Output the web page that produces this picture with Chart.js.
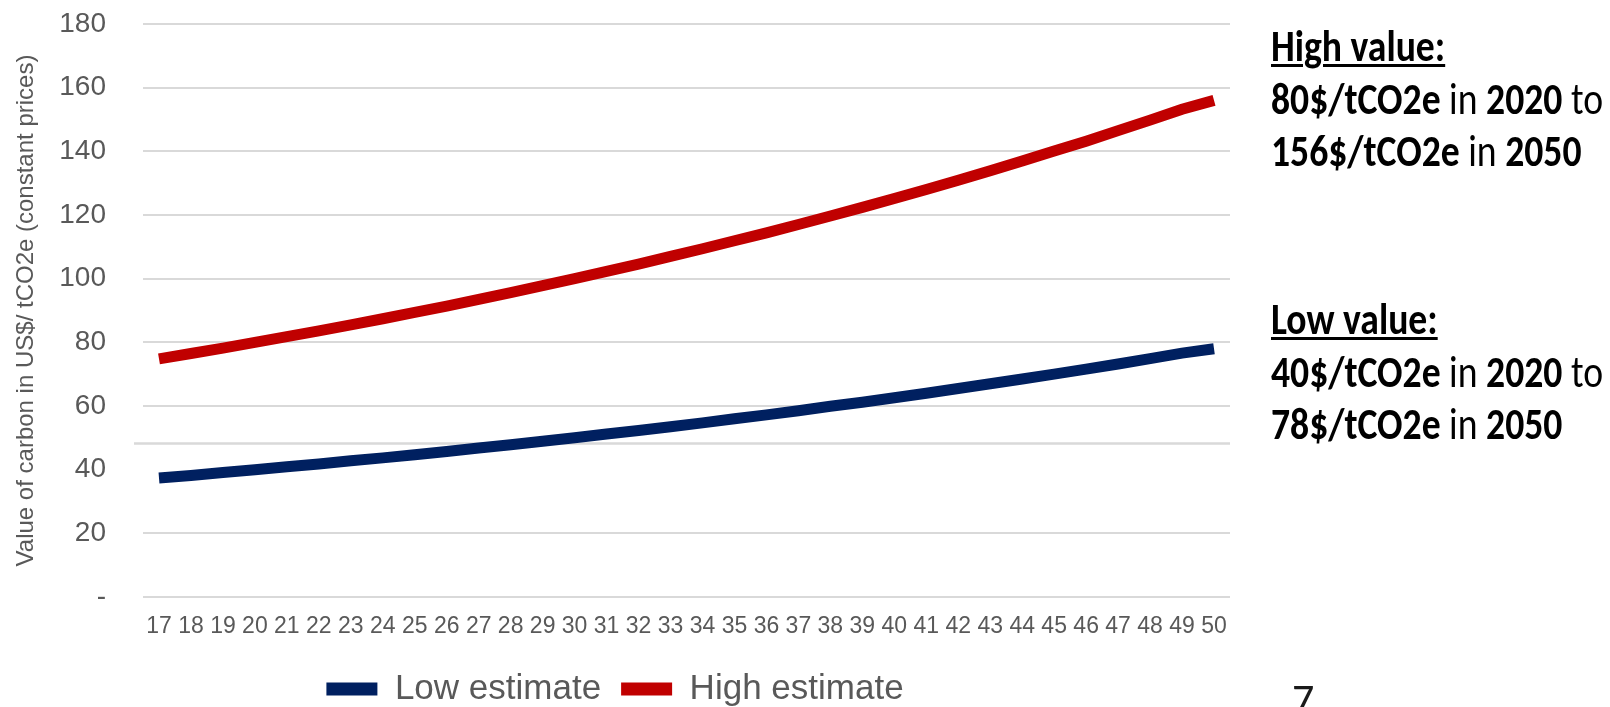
<!DOCTYPE html>
<html>
<head>
<meta charset="utf-8">
<title>Value of carbon</title>
<script src="https://cdn.jsdelivr.net/npm/chart.js@4.4.0/dist/chart.umd.min.js"></script>
<style>
  html, body { margin: 0; padding: 0; background: #fff; }
  body { width: 1610px; height: 707px; position: relative; overflow: hidden; }
  #chart { position: absolute; left: 0; top: 0; }
  .note {
    position: absolute;
    left: 1271px;
    font-family: Carlito, Calibri, 'Liberation Sans Narrow', 'Open Sans', sans-serif;
    font-size: 45px;
    line-height: 52.5px;
    color: #000;
    white-space: nowrap;
    transform-origin: left top;
  }
  .note .head { font-weight: bold; text-decoration: underline; text-decoration-thickness: 3px; text-underline-offset: 3px; }
  #high-note { top: 20px; }
  #low-note { top: 293px; }
  #page {
    position: absolute;
    left: 1292px;
    top: 677px;
    font-family: Carlito, Calibri, 'Liberation Sans Narrow', 'Open Sans', sans-serif;
    font-size: 44px;
    line-height: 44px;
    color: #1a1a1a;
  }
</style>
</head>
<body>
<canvas id="chart" width="1610" height="707"></canvas>

<div class="note" id="high-note">
  <div class="head">High value:</div>
  <div><b>80$/tCO2e</b> in <b>2020</b> to</div>
  <div><b>156$/tCO2e</b> in <b>2050</b></div>
</div>
<div class="note" id="low-note">
  <div class="head">Low value:</div>
  <div><b>40$/tCO2e</b> in <b>2020</b> to</div>
  <div><b>78$/tCO2e</b> in <b>2050</b></div>
</div>
<div id="page">7</div>

<script>
// years 2017 - 2050, shown as two digits
const years = ['17', '18', '19', '20', '21', '22', '23', '24', '25', '26', '27', '28', '29', '30', '31', '32', '33',
  '34', '35', '36', '37', '38', '39', '40', '41', '42', '43', '44', '45', '46', '47', '48', '49', '50'];

// US$ per tCO2e
const lowEstimate = [37.4, 38.2, 39.1, 40.0, 40.9, 41.8, 42.8, 43.7, 44.7, 45.7, 46.8, 47.8, 48.9, 50.0, 51.2, 52.3, 53.5,
  54.7, 56.0, 57.2, 58.5, 59.9, 61.2, 62.6, 64.0, 65.5, 67.0, 68.5, 70.0, 71.6, 73.2, 74.9, 76.6, 78.0];
const highEstimate = [74.8, 76.5, 78.2, 80.0, 81.8, 83.6, 85.5, 87.4, 89.4, 91.4, 93.5, 95.6, 97.8, 100.0, 102.3, 104.6, 107.0,
  109.4, 111.9, 114.4, 117.0, 119.7, 122.4, 125.2, 128.0, 130.9, 133.9, 137.0, 140.1, 143.2, 146.5, 149.8, 153.2, 156.0];

const yTickLabels = ['-', '20', '40', '60', '80', '100', '120', '140', '160', '180'];
const yAxisTitle = 'Value of carbon in US$/ tCO2e (constant prices)';

// the slide has one misplaced gridline just under 50 instead of the one at 40
const strayLineValue = 48.2;
const hiddenGridValue = 40;

const gridColor = '#d9d9d9';
const textGrey = '#595959';

Chart.defaults.font.family = "'Liberation Sans', Arial, sans-serif";

const strayGridLine = {
  id: 'strayGridLine',
  beforeDatasetsDraw(chart) {
    const { ctx, chartArea, scales } = chart;
    const py = scales.y.getPixelForValue(strayLineValue);
    ctx.save();
    ctx.strokeStyle = gridColor;
    ctx.lineWidth = 2.5;
    ctx.beginPath();
    ctx.moveTo(chartArea.left - 9, py);
    ctx.lineTo(chartArea.right, py);
    ctx.stroke();
    ctx.restore();
  }
};

const chart = new Chart(document.getElementById('chart'), {
  type: 'line',
  data: {
    labels: years,
    datasets: [
      {
        label: 'Low estimate',
        data: lowEstimate,
        borderColor: '#002060',
        backgroundColor: '#002060',
        borderWidth: 11,
        pointRadius: 0,
        fill: false,
        tension: 0
      },
      {
        label: 'High estimate',
        data: highEstimate,
        borderColor: '#c00000',
        backgroundColor: '#c00000',
        borderWidth: 11,
        pointRadius: 0,
        fill: false,
        tension: 0
      }
    ]
  },
  options: {
    responsive: false,
    animation: false,
    layout: { padding: { left: 0, right: 380, top: 24, bottom: -9.5 } },
    plugins: {
      tooltip: { enabled: false },
      legend: {
        position: 'bottom',
        labels: {
          color: textGrey,
          font: { size: 35 },
          boxWidth: 51,
          boxHeight: 13,
          padding: 20,
          generateLabels(chart) {
            const items = Chart.defaults.plugins.legend.labels.generateLabels(chart);
            items.forEach(item => {
              item.lineWidth = 0;
              item.fillStyle = item.strokeStyle;
            });
            return items;
          }
        }
      }
    },
    scales: {
      x: {
        offset: true,
        grid: { display: false, drawTicks: false },
        border: { display: false },
        ticks: {
          color: textGrey,
          font: { size: 23 },
          padding: 16,
          autoSkip: false,
          maxRotation: 0
        },
        afterFit(scale) { scale.height = 54.5; }
      },
      y: {
        min: 0,
        max: 180,
        border: { display: false },
        grid: {
          drawTicks: false,
          lineWidth: 2,
          color: ctx => (ctx.tick && ctx.tick.value === hiddenGridValue) ? 'rgba(0,0,0,0)' : gridColor
        },
        ticks: {
          stepSize: 20,
          color: textGrey,
          font: { size: 28 },
          padding: 37,
          callback: (value, index) => yTickLabels[index]
        },
        title: {
          display: true,
          text: yAxisTitle,
          color: textGrey,
          font: { size: 24 },
          padding: { top: 12, bottom: 0 }
        },
        afterFit(scale) {
          scale.width = 143;
          // the big label gap should not push the plot down
          scale.paddingTop = 0;
          scale.paddingBottom = 0;
        }
      }
    }
  },
  plugins: [strayGridLine]
});

// squeeze the side notes to the width they have on the slide
document.fonts.ready.then(() => {
  const line = document.querySelector('#high-note div:nth-child(2)');
  const range = document.createRange();
  range.selectNodeContents(line);
  const textW = range.getBoundingClientRect().width;
  const k = 332 / textW;
  document.querySelectorAll('.note').forEach(n => { n.style.transform = 'scaleX(' + k + ')'; });
});
</script>
</body>
</html>
